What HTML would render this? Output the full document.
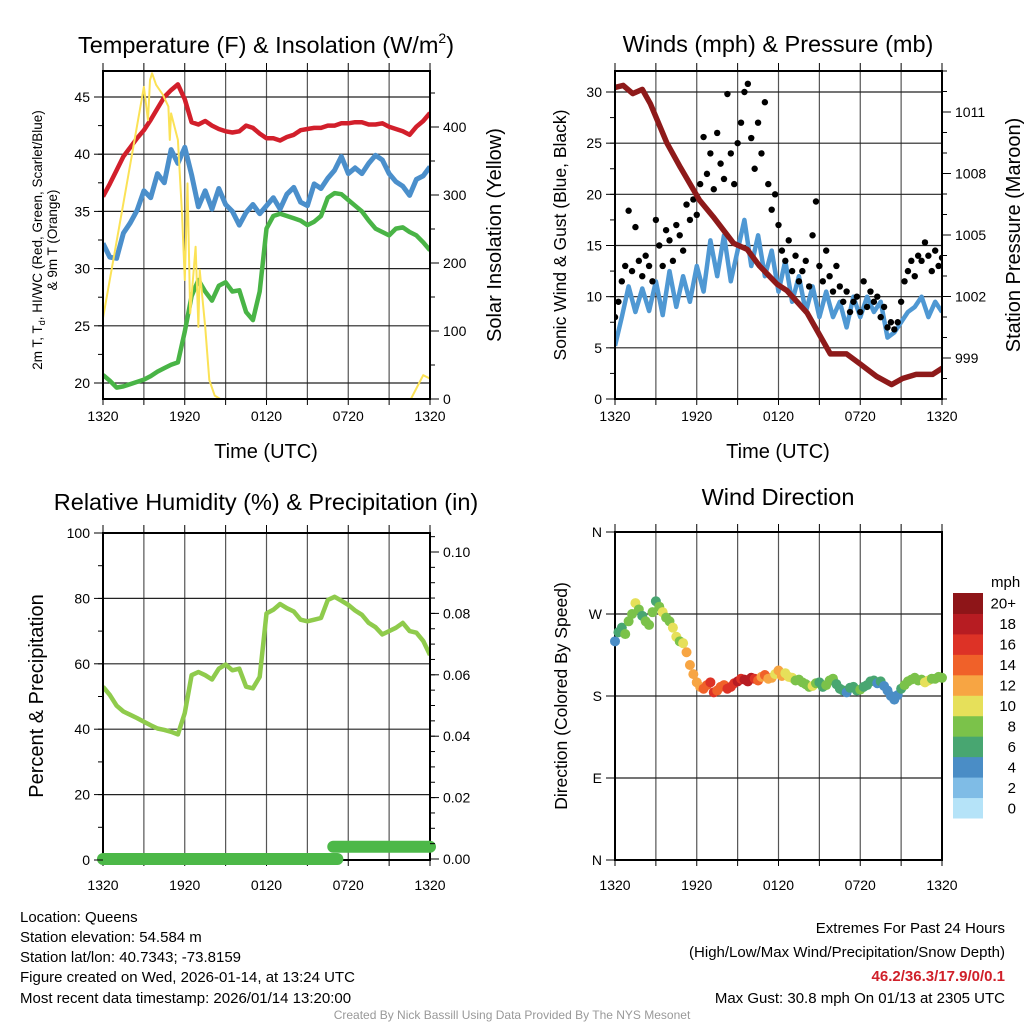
<!DOCTYPE html>
<html><head><meta charset="utf-8"><title>Mesonet Station Plot - Queens</title>
<style>
html,body{margin:0;padding:0;background:#fff;}
svg{display:block;font-family:"Liberation Sans",Arial,sans-serif;}
</style></head>
<body>
<svg id="fig" width="1024" height="1024" viewBox="0 0 1024 1024" xmlns="http://www.w3.org/2000/svg">
<rect x="0" y="0" width="1024" height="1024" fill="#fff"/>
<g id="p1"></g>
<g id="p2"></g>
<g id="p3"></g>
<g id="p4"></g>

<text x="266" y="53" font-size="23.5" text-anchor="middle">Temperature (F) &amp; Insolation (W/m<tspan font-size="14" dy="-10">2</tspan><tspan dy="10">)</tspan></text>
<text x="778" y="52" font-size="23.5" text-anchor="middle">Winds (mph) &amp; Pressure (mb)</text>
<text x="266" y="510" font-size="23.5" text-anchor="middle">Relative Humidity (%) &amp; Precipitation (in)</text>
<text x="778" y="505" font-size="23.5" text-anchor="middle">Wind Direction</text>

<text x="266" y="458" font-size="20" text-anchor="middle">Time (UTC)</text>
<text x="778" y="458" font-size="20" text-anchor="middle">Time (UTC)</text>

<g transform="translate(42,240) rotate(-90)">
<text x="0" y="0" font-size="13.5" text-anchor="middle">2m T, T<tspan font-size="9" dy="3">d</tspan><tspan dy="-3">, HI/WC (Red, Green, Scarlet/Blue)</tspan></text>
<text x="0" y="15" font-size="13.5" text-anchor="middle">&amp; 9m T (Orange)</text>
</g>
<text transform="translate(501,235) rotate(-90)" font-size="20" text-anchor="middle">Solar Insolation (Yellow)</text>
<text transform="translate(566,235) rotate(-90)" font-size="17.5" text-anchor="middle">Sonic Wind &amp; Gust (Blue, Black)</text>
<text transform="translate(1020,235) rotate(-90)" font-size="20" text-anchor="middle">Station Pressure (Maroon)</text>
<text transform="translate(43,696) rotate(-90)" font-size="20" text-anchor="middle">Percent &amp; Precipitation</text>
<text transform="translate(567,696) rotate(-90)" font-size="17.5" text-anchor="middle">Direction (Colored By Speed)</text>

<g font-size="15">
<text x="20" y="922">Location: Queens</text>
<text x="20" y="942">Station elevation: 54.584 m</text>
<text x="20" y="962">Station lat/lon: 40.7343; -73.8159</text>
<text x="20" y="982">Figure created on Wed, 2026-01-14, at 13:24 UTC</text>
<text x="20" y="1003">Most recent data timestamp: 2026/01/14 13:20:00</text>
</g>
<g font-size="15" text-anchor="end">
<text x="1005" y="933">Extremes For Past 24 Hours</text>
<text x="1005" y="957">(High/Low/Max Wind/Precipitation/Snow Depth)</text>
<text x="1005" y="981" fill="#d0202a" font-weight="bold">46.2/36.3/17.9/0/0.1</text>
<text x="1005" y="1003">Max Gust: 30.8 mph On 01/13 at 2305 UTC</text>
</g>
<text x="512" y="1019" font-size="12" fill="#999" text-anchor="middle">Created By Nick Bassill Using Data Provided By The NYS Mesonet</text>
</svg>
<script>
// ---------- data ----------
var timeTickLabels = ["1320","1920","0120","0720","1320"];
var tempTickLabels = ["20","25","30","35","40","45"];
var tempTickValues = [20,25,30,35,40,45];
var solarTickValues = [0,100,200,300,400];
var windTickValues = [0,5,10,15,20,25,30];
var pressTickValues = [999,1002,1005,1008,1011];
var rhTickValues = [0,20,40,60,80,100];
var precipTickLabels = ["0.00","0.02","0.04","0.06","0.08","0.10"];
var precipTickValues = [0,0.02,0.04,0.06,0.08,0.10];
var dirTickLabels = ["N","E","S","W","N"];
var dirTickValues = [0,90,180,270,360];
var speedBinLabels = ["0","2","4","6","8","10","12","14","16","18","20+"];
var speedBinColors = ["#b5e3f8","#7fbce6","#4a8dc6","#48a671","#7bc24a","#e6e05a","#f7a543","#f06129","#dd3226","#b71c22","#8e1518"];

// half-hourly series (hours 0..24, step 0.5)
var tempValues = [36.3,37.4,38.6,39.8,40.6,41.4,42.1,43.0,44.0,45.0,45.6,46.1,44.8,42.8,42.6,42.9,42.5,42.2,42.0,41.9,42.0,42.5,42.3,41.8,41.4,41.4,41.2,41.5,41.7,42.1,42.2,42.3,42.3,42.5,42.5,42.7,42.7,42.8,42.8,42.6,42.6,42.7,42.4,42.2,42.0,41.7,42.4,42.9,43.6];
var chillValues = [32.2,31.0,30.9,33.1,34.0,35.1,36.8,36.2,38.3,37.5,40.4,39.2,40.6,38.2,35.4,36.8,35.2,37.0,35.6,35.0,33.8,34.9,35.6,34.8,35.5,36.2,35.2,36.5,37.1,35.8,35.5,37.4,37.0,37.9,38.6,39.8,38.3,38.8,38.3,39.2,39.9,39.5,38.3,37.6,37.2,36.4,37.8,38.1,38.9];
var dewValues = [20.7,20.2,19.6,19.7,19.9,20.1,20.3,20.6,21.0,21.3,21.6,21.8,24.5,27.6,29.0,28.0,27.2,28.5,28.8,28.0,28.1,26.2,25.5,28.0,33.5,34.6,34.8,34.6,34.4,34.2,33.8,34.1,34.6,36.2,36.6,36.5,36.0,35.5,35.0,34.2,33.5,33.2,32.9,33.5,33.6,33.2,32.9,32.3,31.6];
var solarHours = [0,1.5,3,3.3,3.45,3.6,3.9,4.4,4.8,4.9,5.0,5.5,5.8,6.0,6.2,6.4,6.8,7.0,7.1,7.5,7.8,8.2,8.6,22.6,23.5,24];
var solarValues = [119,288,459,410,469,479,462,447,430,381,420,381,273,175,317,126,224,106,190,106,28,5,0,0,35,30];
var windValues = [5.2,8.0,11.0,8.5,10.8,8.6,11.5,8.2,12.5,9.0,12.0,9.5,13.0,10.5,15.5,12.0,16.0,11.5,14.5,17.5,13.0,16.0,12.0,14.5,10.5,13.5,9.5,12.0,8.5,11.0,8.0,10.5,8.0,9.5,7.0,10.0,8.0,10.0,8.5,9.5,6.0,6.5,7.5,8.5,9.0,10.0,8.0,9.5,8.5];
var pressHours = [0,0.6,1.3,2,2.6,3.8,4.8,6.2,7.2,8.7,9.7,10.6,11.9,12.6,14.1,15.8,17,18,19.2,20.3,21.1,22.1,23.3,24];
var pressValues = [1012.2,1012.3,1011.9,1012.1,1011.4,1009.5,1008.3,1006.7,1005.9,1004.6,1004.3,1003.5,1002.6,1002.3,1001.2,999.2,999.2,998.7,998.1,997.7,998.0,998.2,998.2,998.5];
// gusts every 15 min
var gustValues = [8.0,9.5,11.5,13.0,18.4,12.5,16.8,13.5,12.0,14.0,13.0,11.5,17.5,15.0,13.0,16.5,15.5,13.5,17.0,16.0,14.5,19.0,17.5,19.5,18.0,21.0,25.6,22.0,24.0,20.5,26.0,23.0,21.5,29.8,24.0,21.0,25.0,27.0,30.0,30.8,25.5,22.5,27.0,24.0,29.0,21.0,18.5,20.0,17.0,14.5,13.5,15.5,12.5,14.0,11.5,12.5,13.5,11.0,16.0,19.3,13.0,11.5,14.5,12.0,10.5,13.0,11.0,9.5,10.5,8.5,9.5,10.0,8.5,11.5,9.0,10.5,9.5,10.0,8.0,9.0,7.0,7.5,6.8,7.5,9.5,11.5,12.5,13.5,12.0,14.0,13.5,15.3,14.0,12.5,14.5,13.0,13.8];
var rhValues = [53,50.5,47.2,45.4,44.4,43.4,42.3,41.2,40.2,39.8,39.2,38.4,45,56.5,57.5,56.5,55.2,58.5,59.8,58,58.5,53,52.5,56,75.4,76.5,78.3,77,76,73.5,73,73.5,74,79.5,80.5,79.3,78,76.3,75,72.5,71.2,69,70,71,72.5,70,69.5,67,62.7];
var precipStart = [0,16.9];
var precipEnd = [17.2,24];
var precipValues = [0,0.004];
// direction & speed every 15 min
var dirValues = [240,250,255,248,262,270,282,275,268,262,258,272,284,278,272,266,262,255,245,240,238,228,214,204,195,190,188,192,195,184,186,190,192,188,190,194,196,199,198,196,200,199,197,201,203,199,200,204,208,202,205,201,200,197,198,195,193,190,191,194,195,190,192,197,199,193,188,186,184,189,190,186,187,190,192,196,197,194,196,191,186,180,176,181,188,192,196,198,200,197,198,195,197,199,199,201,200];
var speedValues = [4,6,7,8,9,8,10,9,7,8,9,8,7,9,10,8,9,10,10,9,11,12,13,12,12,13,15,14,17,16,14,15,15,16,16,17,18,17,19,18,18,16,14,13,15,12,12,11,13,12,11,10,10,9,9,8,8,9,10,8,7,6,9,8,8,7,6,6,5,6,7,6,8,7,7,6,6,5,6,5,5,4,4,5,7,8,8,9,9,8,8,10,10,9,9,8,8];

// ---------- geometry ----------
var NS = "http://www.w3.org/2000/svg";
function mk(parent, tag, attrs){var e=document.createElementNS(NS,tag);for(var k in attrs)e.setAttribute(k,attrs[k]);parent.appendChild(e);return e;}
function lin(d0,d1,r0,r1){return function(v){return r0+(v-d0)*(r1-r0)/(d1-d0);};}
var xL = lin(0,24,103,430), xR = lin(0,24,615,942);
var P1 = {g:document.getElementById('p1'),x0:103,x1:430,y0:71,y1:399,xs:xL,lab:22};
var P2 = {g:document.getElementById('p2'),x0:615,x1:942,y0:71,y1:399,xs:xR,lab:22};
var P3 = {g:document.getElementById('p3'),x0:103,x1:430,y0:533,y1:860,xs:xL,lab:30};
var P4 = {g:document.getElementById('p4'),x0:615,x1:942,y0:532,y1:860,xs:xR,lab:30};
var yTemp = lin(20,45,383,97), ySolar = lin(0,400,399,127);
var yWind = lin(0,30,399,92), yPress = lin(999,1011,358,112);
var yRH = lin(0,100,860,533), yPrecip = lin(0,0.10,859,552);
var yDir = lin(0,360,860,532);

function frame(P, hGrid){
  var g=P.g;
  for(var h=3;h<24;h+=3){
    var x=P.xs(h);
    var l=mk(g,'line',{x1:x,x2:x,y1:P.y0,y2:P.y1,stroke:'#555','stroke-width':1.2});
    
    
  }
  for(var h2=0;h2<=24;h2+=3){
    var xx=P.xs(h2);
    var t1=mk(g,'line',{x1:xx,x2:xx,y1:P.y1,y2:P.y1+6,stroke:'#000','stroke-width':1});
    
    
    var t2=mk(g,'line',{x1:xx,x2:xx,y1:P.y0,y2:P.y0-8,stroke:'#000','stroke-width':1});
    
    
  }
  hGrid.forEach(function(y){
    var l=mk(g,'line',{x1:P.x0,x2:P.x1,y1:y,y2:y,stroke:'#222','stroke-width':1.2});
    
    
  });
  for(var i=0;i<timeTickLabels.length;i++){
    var t=mk(g,'text',{x:P.xs(i*6),y:P.y1+P.lab,'font-size':14,'text-anchor':'middle'});
    t.textContent=timeTickLabels[i];
    
    
  }
}
function border(P){
  var r=mk(P.g,'rect',{x:P.x0,y:P.y0,width:P.x1-P.x0,height:P.y1-P.y0,fill:'none',stroke:'#000','stroke-width':2});
  
  
}
function yTicks(P, vals, labels, ys, side, minorStep, dmin, dmax){
  var g=P.g, x=side==='left'?P.x0:P.x1, dir=side==='left'?-1:1;
  if(minorStep){
    for(var v=dmin; v<=dmax+1e-9; v+=minorStep){
      var yy=ys(v);
      if(yy<P.y0-0.5||yy>P.y1+0.5) continue;
      var m=mk(g,'line',{x1:x,x2:x+dir*5,y1:yy,y2:yy,stroke:'#000','stroke-width':1});
      
      
    }
  }
  for(var i=0;i<vals.length;i++){
    var y=ys(vals[i]);
    var t=mk(g,'line',{x1:x,x2:x+dir*9,y1:y,y2:y,stroke:'#000','stroke-width':1});
    
    
    var tx=mk(g,'text',{x:x+dir*13,y:y+5,'font-size':14,'text-anchor':side==='left'?'end':'start'});
    tx.textContent=labels[i];
    
    
  }
}
function pathFrom(xs, ys, hours, vals){
  var d='';
  for(var i=0;i<vals.length;i++){d+=(i?'L':'M')+xs(hours[i]).toFixed(1)+','+ys(vals[i]).toFixed(1);}
  return d;
}
function halfHours(n){var a=[];for(var i=0;i<n;i++)a.push(i*0.5);return a;}
function quarterHours(n){var a=[];for(var i=0;i<n;i++)a.push(i*0.25);return a;}
function clip(P,id){
  var defs=mk(document.getElementById('fig'),'defs',{});
  var cp=mk(defs,'clipPath',{id:id});
  mk(cp,'rect',{x:P.x0,y:P.y0,width:P.x1-P.x0,height:P.y1-P.y0});
}

// ---------- panel 1 ----------
frame(P1, tempTickValues.map(yTemp));
clip(P1,'c1');
var g1=mk(P1.g,'g',{'clip-path':'url(#c1)'});
var hh=halfHours(49);
var dewLine=mk(g1,'path',{d:pathFrom(xL,yTemp,hh,dewValues),fill:'none',stroke:'#49b446','stroke-width':4.5,'stroke-linejoin':'round'});


var chillLine=mk(g1,'path',{d:pathFrom(xL,yTemp,hh,chillValues),fill:'none',stroke:'#4b8fcb','stroke-width':5,'stroke-linejoin':'round'});


var tempLine=mk(g1,'path',{d:pathFrom(xL,yTemp,hh,tempValues),fill:'none',stroke:'#d21f2b','stroke-width':4.5,'stroke-linejoin':'round'});


var solarLine=mk(g1,'path',{d:pathFrom(xL,ySolar,solarHours,solarValues),fill:'none',stroke:'#fbe256','stroke-width':2,'stroke-linejoin':'round'});


border(P1);
yTicks(P1,tempTickValues,tempTickLabels,yTemp,'left',2.5,17.5,47.5);
yTicks(P1,solarTickValues,solarTickValues.map(String),ySolar,'right',50,0,500);

// ---------- panel 2 ----------
frame(P2, windTickValues.map(yWind));
clip(P2,'c2');
var g2=mk(P2.g,'g',{'clip-path':'url(#c2)'});
var windLine=mk(g2,'path',{d:pathFrom(xR,yWind,hh,windValues),fill:'none',stroke:'#4f98d3','stroke-width':4.5,'stroke-linejoin':'round'});


var qh=quarterHours(gustValues.length);
for(var i=0;i<gustValues.length;i++){
  var c=mk(g2,'circle',{cx:xR(qh[i]),cy:yWind(gustValues[i]),r:3.2,fill:'#000'});
  
  
}
var pressLine=mk(g2,'path',{d:pathFrom(xR,yPress,pressHours,pressValues),fill:'none',stroke:'#8e1a1a','stroke-width':5.5,'stroke-linejoin':'round','stroke-linecap':'round'});


border(P2);
yTicks(P2,windTickValues,windTickValues.map(String),yWind,'left',2.5,0,32.5);
yTicks(P2,pressTickValues,pressTickValues.map(String),yPress,'right',1,997,1013);

// ---------- panel 3 ----------
frame(P3, rhTickValues.map(yRH));
clip(P3,'c3');
var g3=mk(P3.g,'g',{'clip-path':'url(#c3)'});
var rhLine=mk(g3,'path',{d:pathFrom(xL,yRH,hh,rhValues),fill:'none',stroke:'#8fcb4c','stroke-width':4.5,'stroke-linejoin':'round'});


border(P3);
for(var i=0;i<precipValues.length;i++){
  var pl=mk(P3.g,'line',{x1:xL(precipStart[i]),x2:xL(precipEnd[i]),y1:yPrecip(precipValues[i]),y2:yPrecip(precipValues[i]),stroke:'#4cb848','stroke-width':12,'stroke-linecap':'round'});
  
  
}
yTicks(P3,rhTickValues,rhTickValues.map(String),yRH,'left',10,0,100);
yTicks(P3,precipTickValues,precipTickLabels,yPrecip,'right',0.005,0,0.105);

// ---------- panel 4 ----------
frame(P4, dirTickValues.map(yDir));
border(P4);
yTicks(P4,dirTickValues,dirTickLabels,yDir,'left',0,0,0);
var qd=quarterHours(dirValues.length);
for(var i=0;i<dirValues.length;i++){
  var bin=Math.min(10,Math.floor(speedValues[i]/2));
  var d=mk(P4.g,'circle',{cx:xR(qd[i]),cy:yDir(dirValues[i]),r:5,fill:speedBinColors[bin]});
  
  
}
// colorbar
var cb=mk(document.getElementById('fig'),'g',{});


var bh=(818-593)/11;
for(var i=0;i<11;i++){
  var y=818-(i+1)*bh;
  var r=mk(cb,'rect',{x:953,y:y,width:30,height:bh+0.5,fill:speedBinColors[i]});
  
  
  var t=mk(cb,'text',{x:1016,y:y+bh/2+5.5,'font-size':15,'text-anchor':'end'});
  t.textContent=speedBinLabels[i];
  
  
}
var mt=mk(cb,'text',{x:991,y:587,'font-size':15});
mt.textContent='mph';


</script>
</body></html>
